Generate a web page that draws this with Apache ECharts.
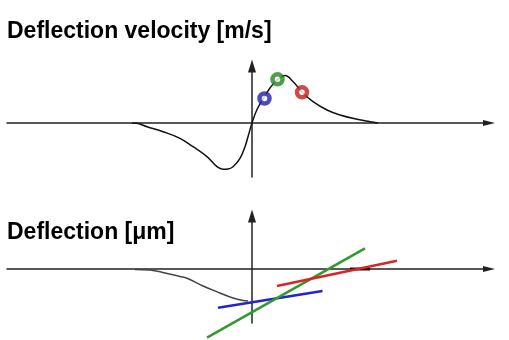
<!DOCTYPE html>
<html>
<head>
<meta charset="utf-8">
<script src="https://cdn.jsdelivr.net/npm/echarts@6/dist/echarts.min.js"></script>
<style>
  html, body { margin: 0; padding: 0; background: #fff; }
  #chart { width: 509px; height: 340px; }
</style>
</head>
<body>
<div id="chart"></div>
<script>
// titles of the two panels
const titles = ["Deflection velocity [m/s]", "Deflection [\u03bcm]"];

// upper panel: velocity curve (x, v)
const velocityX = [-12, -11.5, -10.5, -8.9, -7.2, -5.9, -4.5, -3.5, -2.9, -2.4, -1.9, -1.2, -0.7, -0.4, 0, 0.5, 1.2, 1.8, 2.5, 3.3, 4.1, 5.0, 6.1, 7.5, 8.8, 10.5, 11.8, 12.6];
const velocityY = [0, -0.03, -0.37, -0.87, -1.53, -2.37, -3.37, -4.37, -4.63, -4.6, -4.37, -3.53, -2.37, -1.37, 0, 1.35, 2.55, 3.5, 4.3, 4.75, 4.15, 3.1, 2.13, 1.3, 0.8, 0.37, 0.13, 0];

// marked points on the velocity curve
const markerX = [1.25, 2.55, 5.0];
const markerY = [2.45, 4.37, 3.07];
const markerColors = ["#2020a8", "#228622", "#c41c1c"];

// lower panel: deflection curve (x, d)
const deflX = [-11.7, -10.2, -8.7, -7.2, -6.5, -4.9, -3.2, -1.9, -0.9, -0.4];
const deflY = [-0.05, -0.1, -0.4, -0.75, -0.93, -1.7, -2.4, -2.9, -3.15, -3.2];
const deflTailX = [9.8, 11.8];
const deflTailY = [0, 0];

// tangent segments (x start, x end, y start, y end)
const blueTangent = { x: [-3.4, 7.05], y: [-3.87, -2.2] };
const greenTangent = { x: [-4.5, 11.3], y: [-6.87, 2.07] };
const redTangent = { x: [2.5, 14.5], y: [-1.7, 0.83] };

const zip = (xs, ys) => xs.map((x, i) => [x, ys[i]]);

const chart = echarts.init(document.getElementById("chart"));

const axisLine = (sym, size) => ({
  show: true,
  onZero: true,
  symbol: ["none", sym],
  symbolSize: size,
  lineStyle: { color: "#222", width: 1.5 },
});

const xAxisBase = {
  type: "value",
  min: -24.5,
  max: 23.7,
  axisLine: axisLine("triangle", [6, 12]),
  axisTick: { show: false },
  axisLabel: { show: false },
  splitLine: { show: false },
};

const yAxisBase = {
  type: "value",
  axisLine: axisLine("triangle", [8, 13]),
  axisTick: { show: false },
  axisLabel: { show: false },
  splitLine: { show: false },
};

const lineSeries = (name, data, axis, color, width) => ({
  name,
  type: "line",
  xAxisIndex: axis,
  yAxisIndex: axis,
  data,
  symbol: "none",
  clip: false,
  lineStyle: { color, width },
});

chart.setOption({
  animation: false,
  backgroundColor: "#fff",
  title: titles.map((t, i) => ({
    text: t,
    left: 2,
    top: i === 0 ? 15 : 216,
    textStyle: {
      fontFamily: "Liberation Sans",
      fontWeight: "bold",
      fontSize: 23,
      color: "#000",
    },
  })),
  grid: [
    { left: 7, right: 20, top: 66, bottom: 163 },
    { left: 7, right: 20, top: 216, bottom: 17 },
  ],
  xAxis: [
    Object.assign({ gridIndex: 0 }, xAxisBase),
    Object.assign({ gridIndex: 1 }, xAxisBase),
  ],
  yAxis: [
    Object.assign({ gridIndex: 0, min: -5.4, max: 5.7 }, yAxisBase),
    Object.assign({ gridIndex: 1, min: -5.4, max: 5.3 }, yAxisBase),
  ],
  series: [
    Object.assign(lineSeries("velocity", zip(velocityX, velocityY), 0, "#111", 1.5), { smooth: 0.4 }),
    {
      name: "markers",
      type: "scatter",
      xAxisIndex: 0,
      yAxisIndex: 0,
      symbol: "circle",
      symbolSize: 10,
      data: markerX.map((x, i) => ({
        value: [x, markerY[i]],
        itemStyle: { color: "#fff", borderColor: markerColors[i], borderWidth: 4.5 },
      })),
      z: 5,
    },
    Object.assign(lineSeries("deflection", zip(deflX, deflY), 1, "#444", 1.5), { smooth: 0.4 }),
    lineSeries("deflTail", zip(deflTailX, deflTailY), 1, "#111", 3),
    lineSeries("blue", zip(blueTangent.x, blueTangent.y), 1, "#2323cc", 2.5),
    lineSeries("green", zip(greenTangent.x, greenTangent.y), 1, "#2f9b2f", 2.5),
    lineSeries("red", zip(redTangent.x, redTangent.y), 1, "#dd2222", 2.5),
  ],
});
</script>
</body>
</html>
